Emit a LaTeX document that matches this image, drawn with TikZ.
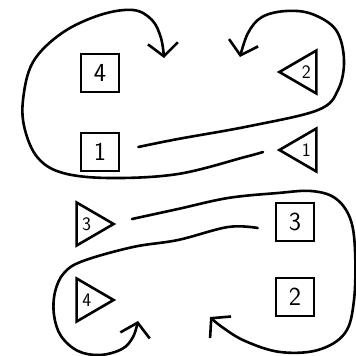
\documentclass[tikz,border=0pt]{standalone}
\usetikzlibrary{shapes.geometric,arrows.meta}
\begin{document}
\begin{tikzpicture}[x=1pt,y=-1pt,
  box/.style={draw,line width=2.6pt,minimum size=38pt,inner sep=0pt,font=\sffamily\fontsize{26}{26}\selectfont},
  tri/.style={draw,line width=2.6pt,isosceles triangle,isosceles triangle stretches,minimum width=43pt,minimum height=37pt,inner sep=0pt,font=\sffamily\fontsize{19}{19}\selectfont},
  conn/.style={line width=2.6pt,line cap=round,line join=round},
  arr/.style={conn,-{Straight Barb[length=13pt,width=30pt,line width=2.6pt]}}]
\useasboundingbox (0,0) rectangle (356,356);
% nodes
\node[box] (s4) at (100,73) {4};
\node[box] (s1) at (100,152) {1};
\node[box] (s3) at (295,222) {3};
\node[box] (s2) at (295,297) {2};
\node[tri,shape border rotate=180,anchor=apex] (t2) at (276,72) {2};
\node[tri,shape border rotate=180,anchor=apex] (t1) at (276,150) {1};
\node[tri,anchor=apex] (t3) at (117,224) {3};
\node[tri,anchor=apex] (t4) at (117,300) {4};
% end points
\coordinate (b0) at ([xshift=18pt,yshift=5pt]s1.east);
\coordinate (bE) at (240,57);
\coordinate (a0) at ([xshift=-13pt,yshift=-2pt]t1.apex);
\coordinate (aE) at (164,58);
\coordinate (c0) at ([xshift=15pt,yshift=5pt]t3.apex);
\coordinate (cE) at (210,317);
\coordinate (d0) at ([xshift=-17pt,yshift=-6pt]s3.west);
\coordinate (dE) at (138,321);
% connectors
\draw[arr] plot[smooth,tension=0.6] coordinates {(b0) (178,139) (250,126) (318,110) (338,90) (344,60) (336,30) (312,14) (286,11) (262,17) (248,33) (bE)};
\draw[arr] plot[smooth,tension=0.6] coordinates {(a0) (245,157) (178,174) (110,178) (63,173) (38,158) (25,130) (23,100) (33,62) (62,33) (100,15) (133,10) (152,20) (161,38) (aE)};
\draw[arr] plot[smooth,tension=0.6] coordinates {(c0) (178,209) (228,198) (278,193) (311,191) (335,198) (350,218) (355,250) (354,300) (345,333) (318,350) (280,352) (245,341) (222,327) (cE)};
\draw[arr] plot[smooth,tension=0.6] coordinates {(d0) (228,227) (178,240) (133,247) (83,261) (64,273) (55,292) (54,315) (61,336) (78,351) (100,355) (122,349) (133,337) (dE)};
\end{tikzpicture}
\end{document}
